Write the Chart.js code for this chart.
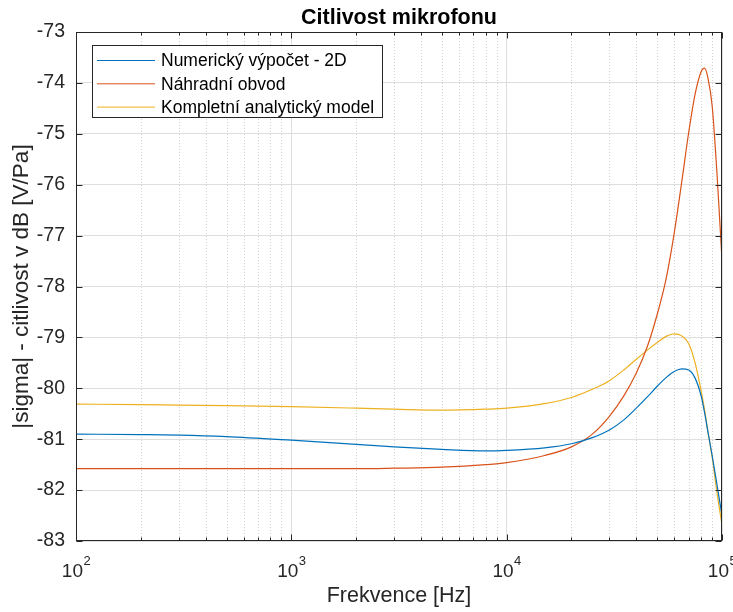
<!DOCTYPE html>
<html>
<head>
<meta charset="utf-8">
<script src="https://cdn.jsdelivr.net/npm/chart.js@4"></script>
<style>
  body { margin: 0; background: #fff; }
  #wrap { width: 733px; height: 612px; }
</style>
</head>
<body>
<div id="wrap"><canvas id="micChart"></canvas></div>
<script>
// frequencies [Hz]
const freqs = [100, 200, 300, 500, 1000, 2000, 3000, 5000, 8000, 10000, 15000, 20000,
  25000, 30000, 35000, 40000, 45000, 50000, 55000, 60000, 65000, 70000, 75000,
  80000, 83000, 86000, 90000, 95000, 100000];

const numeric2D = [-80.90, -80.91, -80.92, -80.95, -81.02, -81.10, -81.15, -81.20, -81.23, -81.22, -81.17, -81.09,
  -80.97, -80.82, -80.62, -80.39, -80.17, -79.96, -79.79, -79.67, -79.62, -79.64, -79.80,
  -80.15, -80.48, -80.85, -81.32, -81.92, -82.50];

const equivCircuit = [-81.58, -81.58, -81.58, -81.58, -81.58, -81.58, -81.57, -81.55, -81.50, -81.46, -81.32, -81.15,
  -80.90, -80.55, -80.15, -79.70, -79.18, -78.55, -77.85, -76.95, -75.95, -74.98, -74.22,
  -73.78, -73.71, -73.90, -74.45, -75.85, -77.48];

const analyticModel = [-80.31, -80.32, -80.33, -80.34, -80.36, -80.39, -80.41, -80.43, -80.41, -80.39, -80.30, -80.18,
  -80.02, -79.85, -79.64, -79.43, -79.25, -79.10, -78.98, -78.93, -78.97, -79.12, -79.50,
  -80.05, -80.42, -80.85, -81.35, -82.08, -82.68];

const seriesNames = ["Numerický výpočet - 2D", "Náhradní obvod", "Kompletní analytický model"];
const seriesColors = ["#0072BD", "#D95319", "#EDB120"];

const xTicks = [100, 1000, 10000, 100000];
const xTickExp = ["2", "3", "4", "5"];

const FONT = "'Liberation Sans', Arial, Helvetica, sans-serif";
const AXIS_COLOR = "#262626";

function toPoints(values) {
  return freqs.map((f, i) => ({ x: f, y: values[i] }));
}

// minor grid, box, inward ticks, 10^n labels and legend, MATLAB style
const matlabAxes = {
  id: "matlabAxes",
  beforeDatasetsDraw(chart) {
    const ctx = chart.ctx;
    const area = chart.chartArea;
    const x = chart.scales.x;
    ctx.save();
    ctx.strokeStyle = "#d2d2d2";
    ctx.lineWidth = 1;
    ctx.setLineDash([1, 2]);
    for (let d = 100; d < 100000; d *= 10) {
      for (let m = 2; m <= 9; m++) {
        const px = Math.round(x.getPixelForValue(d * m)) + 0.5;
        ctx.beginPath();
        ctx.moveTo(px, area.top);
        ctx.lineTo(px, area.bottom);
        ctx.stroke();
      }
    }
    ctx.restore();
  },
  afterDatasetsDraw(chart) {
    const ctx = chart.ctx;
    const area = chart.chartArea;
    const x = chart.scales.x;
    const y = chart.scales.y;
    ctx.save();
    ctx.strokeStyle = AXIS_COLOR;
    ctx.lineWidth = 1;
    ctx.setLineDash([]);
    const L = Math.round(area.left) + 0.5, R = Math.round(area.right) - 0.5;
    const T = Math.round(area.top) + 0.5, B = Math.round(area.bottom) - 0.5;
    ctx.strokeRect(L, T, R - L, B - T);

    ctx.beginPath();
    for (let d = 100; d <= 100000; d *= 10) {
      for (let m = 1; m <= 9; m++) {
        const v = d * m;
        if (v > 100000) break;
        const px = Math.round(x.getPixelForValue(v)) + 0.5;
        const len = m === 1 ? 6 : 3;
        ctx.moveTo(px, B); ctx.lineTo(px, B - len);
        ctx.moveTo(px, T); ctx.lineTo(px, T + len);
      }
    }
    for (let v = -83; v <= -73; v++) {
      const py = Math.round(y.getPixelForValue(v)) + 0.5;
      ctx.moveTo(L, py); ctx.lineTo(L + 6, py);
      ctx.moveTo(R, py); ctx.lineTo(R - 6, py);
    }
    ctx.stroke();

    // x tick labels as 10 with superscript exponent
    ctx.fillStyle = AXIS_COLOR;
    ctx.textBaseline = "alphabetic";
    ctx.textAlign = "left";
    xTicks.forEach((v, i) => {
      const px = x.getPixelForValue(v);
      ctx.font = "19px " + FONT;
      const w1 = ctx.measureText("10").width;
      ctx.font = "13px " + FONT;
      const w2 = ctx.measureText(xTickExp[i]).width;
      const start = px - (w1 + w2) / 2;
      ctx.font = "19px " + FONT;
      ctx.fillText("10", start, 577);
      ctx.font = "13px " + FONT;
      ctx.fillText(xTickExp[i], start + w1 + 0.5, 565);
    });

    // legend
    const bx = 92.5, by = 45.5, bw = 290, bh = 72;
    ctx.fillStyle = "#fff";
    ctx.fillRect(bx, by, bw, bh);
    ctx.strokeStyle = AXIS_COLOR;
    ctx.strokeRect(bx, by, bw, bh);
    ctx.font = "17.5px " + FONT;
    ctx.textBaseline = "middle";
    chart.data.datasets.forEach((ds, i) => {
      const ry = 60.5 + i * 23.3;
      ctx.strokeStyle = ds.borderColor;
      ctx.beginPath();
      ctx.moveTo(97, ry);
      ctx.lineTo(155, ry);
      ctx.stroke();
      ctx.fillStyle = "#000";
      ctx.fillText(ds.label, 161, ry + 1);
    });
    ctx.restore();
  }
};

const ctx = document.getElementById("micChart").getContext("2d");
new Chart(ctx, {
  type: "line",
  data: {
    datasets: [
      { label: seriesNames[0], data: toPoints(numeric2D), borderColor: seriesColors[0] },
      { label: seriesNames[1], data: toPoints(equivCircuit), borderColor: seriesColors[1] },
      { label: seriesNames[2], data: toPoints(analyticModel), borderColor: seriesColors[2] }
    ]
  },
  options: {
    responsive: true,
    maintainAspectRatio: false,
    animation: false,
    datasets: {
      line: { borderWidth: 1.2, pointRadius: 0, cubicInterpolationMode: "monotone", fill: false }
    },
    layout: { autoPadding: false, padding: { left: 0, right: 11, top: 0, bottom: 0 } },
    plugins: {
      legend: { display: false },
      tooltip: { enabled: false },
      title: {
        display: true,
        fullSize: false,
        text: "Citlivost mikrofonu",
        color: "#000",
        font: { family: FONT, size: 21.5, weight: "bold" },
        padding: { top: 5, bottom: 1.2 }
      }
    },
    scales: {
      x: {
        type: "logarithmic",
        min: 100,
        max: 100000,
        afterBuildTicks(scale) {
          scale.ticks = xTicks.map(v => ({ value: v }));
        },
        afterFit(scale) { scale.height = 71; },
        grid: { color: "#dedede", drawTicks: false },
        border: { display: false },
        ticks: { display: false },
        title: {
          display: true,
          text: "Frekvence [Hz]",
          color: AXIS_COLOR,
          font: { family: FONT, size: 21.5 },
          padding: { top: 0, bottom: 3 }
        }
      },
      y: {
        min: -83,
        max: -73,
        afterFit(scale) { scale.width = 76; },
        grid: { color: "#dedede", drawTicks: false },
        border: { display: false },
        ticks: {
          stepSize: 1,
          padding: 11,
          color: AXIS_COLOR,
          font: { family: FONT, size: 19.5 },
          callback: (v) => String(v)
        },
        title: {
          display: true,
          text: "|sigma| - citlivost v dB [V/Pa]",
          color: AXIS_COLOR,
          font: { family: FONT, size: 22.5 },
          padding: { top: 8.5, bottom: 0 }
        }
      }
    }
  },
  plugins: [matlabAxes]
});
</script>
</body>
</html>
